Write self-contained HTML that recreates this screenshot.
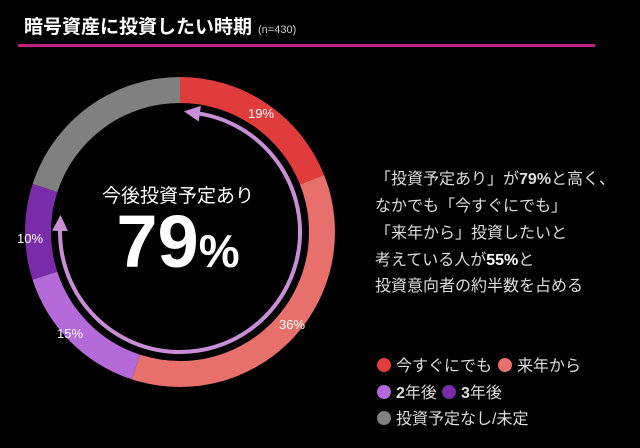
<!DOCTYPE html>
<html><head><meta charset="utf-8"><style>
html,body{margin:0;padding:0;background:#000;}
body{width:640px;height:443px;overflow:hidden;font-family:"Liberation Sans","Noto Sans CJK JP",sans-serif;}
</style></head><body>
<svg width="640" height="443" viewBox="0 0 640 443" xmlns="http://www.w3.org/2000/svg" font-family="Liberation Sans, Noto Sans CJK JP, sans-serif">
<rect width="640" height="443" fill="#000"/>
<text x="24" y="33" fill="#fff" font-size="19" font-weight="bold">暗号資産に投資したい時期<tspan font-size="11" font-weight="normal" fill="#ccc" dx="6">(n=430)</tspan></text>
<rect x="18" y="44" width="577" height="3" fill="#c0207f"/>
<g transform="rotate(-90 180 232)" fill="none" stroke-width="26">
<circle cx="180" cy="232" r="142" stroke="#e03c3c" stroke-dasharray="169.5 1000" stroke-dashoffset="0"/>
<circle cx="180" cy="232" r="142" stroke="#e8706c" stroke-dasharray="321.2 1000" stroke-dashoffset="-169.5"/>
<circle cx="180" cy="232" r="142" stroke="#b46ad8" stroke-dasharray="133.8 1000" stroke-dashoffset="-490.7"/>
<circle cx="180" cy="232" r="142" stroke="#7a2ca8" stroke-dasharray="89.2 1000" stroke-dashoffset="-624.5"/>
<circle cx="180" cy="232" r="142" stroke="#808080" stroke-dasharray="178.5 1000" stroke-dashoffset="-713.7"/>
</g>
<defs><marker id="ah" viewBox="0 0 10 10" refX="2" refY="5" markerWidth="4" markerHeight="4" orient="auto-start-reverse"><path d="M0,0 L10,5 L0,10 z" fill="#c98fd6"/></marker></defs>
<path d="M196.7,113.2 A120,120 0 1 1 60.1,227.8" fill="none" stroke="#c98fd6" stroke-width="4" marker-start="url(#ah)" marker-end="url(#ah)"/>
<g fill="#fff" font-size="13" text-anchor="middle">
<text x="261" y="118">19%</text>
<text x="292" y="329">36%</text>
<text x="70" y="338">15%</text>
<text x="30" y="243">10%</text>
</g>
<text x="178" y="202" fill="#fff" font-size="19" text-anchor="middle">今後投資予定あり</text>
<text x="178" y="267" fill="#fff" font-size="74" font-weight="bold" text-anchor="middle">79<tspan font-size="46">%</tspan></text>
<g fill="#ddd" font-size="16">
<text x="375" y="184">「投資予定あり」が<tspan font-weight="bold">79%</tspan>と高く、</text>
<text x="375" y="211">なかでも「今すぐにでも」</text>
<text x="375" y="238">「来年から」投資したいと</text>
<text x="375" y="265">考えている人が<tspan font-weight="bold" fill="#fff">55%</tspan>と</text>
<text x="375" y="291">投資意向者の約半数を占める</text>
</g>
<circle cx="384" cy="365" r="7" fill="#e03c3c"/>
<circle cx="505" cy="365" r="7" fill="#e8706c"/>
<circle cx="384" cy="392" r="7" fill="#b46ad8"/>
<circle cx="449" cy="392" r="7" fill="#7a2ca8"/>
<circle cx="384" cy="418" r="7" fill="#808080"/>
<g fill="#ddd" font-size="16">
<text x="396" y="371">今すぐにでも</text>
<text x="517" y="371">来年から</text>
<text x="396" y="398"><tspan font-weight="bold">2</tspan>年後</text>
<text x="461" y="398"><tspan font-weight="bold">3</tspan>年後</text>
<text x="396" y="424">投資予定なし/未定</text>
</g>
</svg>
</body></html>
